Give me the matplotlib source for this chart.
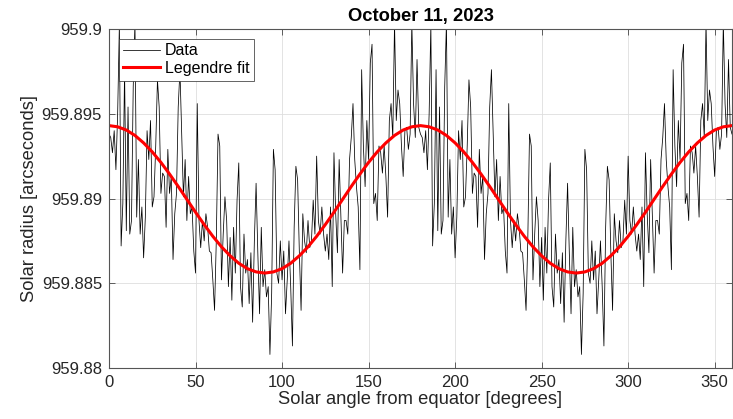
import numpy as np
import matplotlib
matplotlib.use("Agg")
import matplotlib.pyplot as plt
from matplotlib import ticker

plt.rcParams['font.family'] = ['Liberation Sans', 'DejaVu Sans']

radius_0_179 = [
    959.8938, 959.8936, 959.8927, 959.8940, 959.8917, 959.8950, 959.9003, 959.8872, 959.8897, 959.8976,
    959.8881, 959.8954, 959.8879, 959.8887, 959.8966, 959.9004, 959.8889, 959.8923, 959.8879, 959.8895,
    959.8865, 959.8889, 959.8940, 959.8923, 959.8946, 959.8895, 959.8901, 959.8931, 959.8970, 959.8954,
    959.8903, 959.8915, 959.8913, 959.8883, 959.8929, 959.8903, 959.8913, 959.8864, 959.8891, 959.8903,
    959.8954, 959.8976, 959.8938, 959.8901, 959.8923, 959.8887, 959.8913, 959.8891, 959.8895, 959.8869,
    959.8856, 959.8956, 959.8887, 959.8871, 959.8887, 959.8875, 959.8891, 959.8883, 959.8869, 959.8868,
    959.8852, 959.8834, 959.8875, 959.8938, 959.8931, 959.8852, 959.8879, 959.8901, 959.8887, 959.8848,
    959.8877, 959.8840, 959.8883, 959.8856, 959.8899, 959.8921, 959.8848, 959.8836, 959.8879, 959.8856,
    959.8864, 959.8838, 959.8868, 959.8827, 959.8875, 959.8909, 959.8868, 959.8832, 959.8883, 959.8848,
    959.8858, 959.8842, 959.8848, 959.8808, 959.8844, 959.8929, 959.8917, 959.8856, 959.8850, 959.8875,
    959.8852, 959.8869, 959.8832, 959.8852, 959.8875, 959.8848, 959.8813, 959.8883, 959.8919, 959.8911,
    959.8868, 959.8834, 959.8891, 959.8875, 959.8868, 959.8887, 959.8871, 959.8875, 959.8899, 959.8879,
    959.8925, 959.8887, 959.8879, 959.8895, 959.8879, 959.8869, 959.8879, 959.8864, 959.8895, 959.8848,
    959.8927, 959.8891, 959.8868, 959.8923, 959.8889, 959.8856, 959.8887, 959.8887, 959.8879, 959.8923,
    959.8936, 959.8956, 959.8923, 959.8907, 959.8895, 959.8858, 959.8976, 959.8931, 959.8907, 959.8946,
    959.8923, 959.8980, 959.8991, 959.8897, 959.8903, 959.8887, 959.8931, 959.8927, 959.8915, 959.8931,
    959.8913, 959.8889, 959.8946, 959.8956, 959.8936, 959.9004, 959.8946, 959.8964, 959.8956, 959.8931,
    959.8913, 959.8940, 959.8942, 959.8929, 959.8938, 959.9004, 959.8956, 959.8936, 959.8982, 959.8942,
]
radius_180_360 = [
    959.8938, 959.8936, 959.8927, 959.8940, 959.8917, 959.8950, 959.9003, 959.8872, 959.8897, 959.8976,
    959.8881, 959.8954, 959.8879, 959.8887, 959.8966, 959.9004, 959.8889, 959.8923, 959.8879, 959.8895,
    959.8865, 959.8889, 959.8940, 959.8923, 959.8946, 959.8895, 959.8901, 959.8931, 959.8970, 959.8954,
    959.8903, 959.8915, 959.8913, 959.8883, 959.8929, 959.8903, 959.8913, 959.8864, 959.8891, 959.8903,
    959.8954, 959.8976, 959.8938, 959.8901, 959.8923, 959.8887, 959.8913, 959.8891, 959.8895, 959.8869,
    959.8856, 959.8956, 959.8887, 959.8871, 959.8887, 959.8875, 959.8891, 959.8883, 959.8869, 959.8868,
    959.8852, 959.8834, 959.8875, 959.8938, 959.8931, 959.8852, 959.8879, 959.8901, 959.8887, 959.8848,
    959.8877, 959.8840, 959.8883, 959.8856, 959.8899, 959.8921, 959.8848, 959.8836, 959.8879, 959.8856,
    959.8864, 959.8838, 959.8868, 959.8827, 959.8875, 959.8909, 959.8868, 959.8832, 959.8883, 959.8848,
    959.8858, 959.8842, 959.8848, 959.8808, 959.8844, 959.8929, 959.8917, 959.8856, 959.8850, 959.8875,
    959.8852, 959.8869, 959.8832, 959.8852, 959.8875, 959.8848, 959.8813, 959.8883, 959.8919, 959.8911,
    959.8868, 959.8834, 959.8891, 959.8875, 959.8868, 959.8887, 959.8871, 959.8875, 959.8899, 959.8879,
    959.8925, 959.8887, 959.8879, 959.8895, 959.8879, 959.8869, 959.8879, 959.8864, 959.8895, 959.8848,
    959.8927, 959.8891, 959.8868, 959.8923, 959.8889, 959.8856, 959.8887, 959.8887, 959.8879, 959.8923,
    959.8936, 959.8956, 959.8923, 959.8907, 959.8895, 959.8858, 959.8976, 959.8931, 959.8907, 959.8946,
    959.8923, 959.8980, 959.8991, 959.8897, 959.8903, 959.8887, 959.8931, 959.8927, 959.8915, 959.8931,
    959.8913, 959.8889, 959.8946, 959.8956, 959.8936, 959.9004, 959.8946, 959.8964, 959.8956, 959.8931,
    959.8913, 959.8940, 959.8942, 959.8929, 959.8938, 959.9004, 959.8956, 959.8936, 959.8982, 959.8942,
    959.8938,
]
data_angle = np.arange(0, 361)
data_radius = radius_0_179 + radius_180_360

# Legendre fit, read every 5 degrees
fit_angle = np.arange(0, 361, 5)
fit_radius = [
    959.89430, 959.89423, 959.89404, 959.89372, 959.89328, 959.89275, 959.89213, 959.89144, 959.89071,
    959.88995, 959.88919, 959.88846, 959.88777, 959.88715, 959.88662, 959.88618, 959.88586, 959.88567,
    959.88560, 959.88567, 959.88586, 959.88618, 959.88662, 959.88715, 959.88777, 959.88846, 959.88919,
    959.88995, 959.89071, 959.89144, 959.89213, 959.89275, 959.89328, 959.89372, 959.89404, 959.89423,
    959.89430, 959.89423, 959.89404, 959.89372, 959.89328, 959.89275, 959.89213, 959.89144, 959.89071,
    959.88995, 959.88919, 959.88846, 959.88777, 959.88715, 959.88662, 959.88618, 959.88586, 959.88567,
    959.88560, 959.88567, 959.88586, 959.88618, 959.88662, 959.88715, 959.88777, 959.88846, 959.88919,
    959.88995, 959.89071, 959.89144, 959.89213, 959.89275, 959.89328, 959.89372, 959.89404, 959.89423,
    959.89430,
]

x_ticks = [0, 50, 100, 150, 200, 250, 300, 350]
y_ticks = [959.88, 959.885, 959.89, 959.895, 959.9]

fig = plt.figure(figsize=(7.33, 4.19), dpi=100)
ax = fig.add_axes([0.1487, 0.1217, 0.8499, 0.8091])

ax.plot(data_angle, data_radius, color='k', lw=0.55, label='Data')
ax.plot(fit_angle, fit_radius, color='red', lw=2.2, label='Legendre fit')

ax.set_xlim(0, 360)
ax.set_ylim(959.88, 959.9)
ax.set_xticks(x_ticks)
ax.set_yticks(y_ticks)
ax.yaxis.set_major_formatter(ticker.StrMethodFormatter('{x:g}'))
ax.tick_params(direction='in', top=True, right=True, length=4, width=0.5,
               labelsize=12, colors='#262626', pad=5)
ax.grid(True, color='#dedede', lw=0.6)
ax.set_axisbelow(True)
for s in ax.spines.values():
    s.set_color('#555555')
    s.set_linewidth(0.8)

ax.set_xlabel('Solar angle from equator [degrees]', fontsize=13.2, color='#262626', labelpad=1)
ax.set_ylabel('Solar radius [arcseconds]', fontsize=13.2, color='#262626', labelpad=3)
ax.set_title('October 11, 2023', fontsize=13.2, fontweight='bold', pad=6)

leg = ax.legend(loc='upper left', fontsize=11.5, fancybox=False, framealpha=1,
                edgecolor='#262626', borderaxespad=0.6, handlelength=2.3,
                handletextpad=0.3, borderpad=0.3, labelspacing=0.15)
leg.get_frame().set_linewidth(0.5)

fig.savefig('out.png', dpi=100)
